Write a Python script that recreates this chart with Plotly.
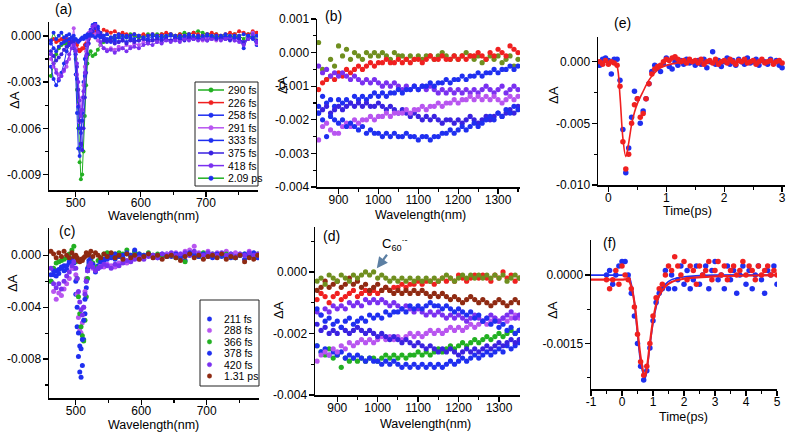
import plotly.graph_objects as go

W, H = 787, 433

# ---------------- panel (a) / (c): visible region ----------------
VIS_WL = [462, 466, 470, 474, 478, 482, 486, 490, 494, 497,
          500, 502, 504, 506, 508, 510, 512, 514, 516, 518,
          520, 523, 526, 530, 534, 538, 543, 548, 554, 560,
          566, 572, 578, 584, 590, 597, 604, 611, 618, 625,
          632, 639, 646, 653, 660, 667, 674, 681, 688, 695,
          702, 709, 716, 723, 730, 737, 744, 751, 758, 765,
          772, 778]

A_290 = [-0.0026, -0.0018, -0.0012, -0.0008, -0.0006, -0.0005, -0.0005, -0.0006, -0.0004, -0.0003,
         -0.0015, -0.0035, -0.0060, -0.0082, -0.0093, -0.0090, -0.0075, -0.0052, -0.0032, -0.0018,
         -0.0012, -0.0010, -0.0013, -0.0012, -0.0009, -0.0006, -0.0004, -0.0003, -0.0002, -0.0001,
         -0.0001, 0.0000, -0.0001, 0.0001, 0.0000, -0.0001, 0.0000, 0.0001, 0.0000, 0.0001,
         0.0001, 0.0000, 0.0001, 0.0000, 0.0001, 0.0002, 0.0001, 0.0002, 0.0003, 0.0002,
         0.0001, 0.0000, 0.0001, 0.0000, -0.0001, 0.0000, 0.0001, 0.0000, -0.0002, 0.0001,
         0.0002, -0.0003]
A_226 = [-0.0003, -0.0002, -0.0004, -0.0003, -0.0002, -0.0003, -0.0002, -0.0003, -0.0002, -0.0003,
         -0.0004, -0.0006, -0.0009, -0.0010, -0.0009, -0.0008, -0.0008, -0.0006, -0.0005, -0.0004,
         -0.0002, 0.0000, 0.0002, 0.0003, 0.0003, 0.0002, 0.0004, 0.0003, 0.0002, 0.0003,
         0.0001, 0.0002, 0.0001, 0.0000, 0.0001, 0.0000, 0.0001, 0.0000, 0.0001, 0.0000,
         0.0001, 0.0002, 0.0001, 0.0000, 0.0001, 0.0000, 0.0001, 0.0002, 0.0001, 0.0000,
         0.0001, 0.0002, 0.0001, 0.0000, 0.0001, 0.0002, 0.0001, 0.0003, 0.0002, 0.0001,
         0.0003, 0.0002]
A_258 = [-0.0020, -0.0028, -0.0032, -0.0029, -0.0024, -0.0018, -0.0010, -0.0006, -0.0003, -0.0008,
         -0.0025, -0.0050, -0.0073, -0.0078, -0.0070, -0.0050, -0.0030, -0.0015, -0.0006, -0.0002,
         0.0001, 0.0003, 0.0006, 0.0008, 0.0005, 0.0001, -0.0002, -0.0003, -0.0004, -0.0003,
         -0.0004, -0.0003, -0.0004, -0.0002, -0.0003, -0.0003, -0.0002, -0.0003, -0.0002, -0.0003,
         -0.0001, -0.0002, -0.0003, -0.0002, -0.0001, -0.0002, -0.0001, -0.0002, -0.0001, -0.0002,
         -0.0001, -0.0002, -0.0001, -0.0002, -0.0001, -0.0002, -0.0001, -0.0002, -0.0005, -0.0001,
         -0.0002, -0.0006]
A_291 = [-0.0015, -0.0020, -0.0022, -0.0025, -0.0026, -0.0023, -0.0020, -0.0015, -0.0005, 0.0005,
         -0.0008, -0.0025, -0.0045, -0.0056, -0.0050, -0.0040, -0.0032, -0.0020, -0.0010, -0.0003,
         0.0002, 0.0004, 0.0003, 0.0001, -0.0003, -0.0006, -0.0008, -0.0009, -0.0008, -0.0009,
         -0.0007, -0.0008, -0.0006, -0.0007, -0.0005, -0.0006, -0.0004, -0.0005, -0.0003, -0.0004,
         -0.0003, -0.0002, -0.0003, -0.0002, -0.0003, -0.0001, -0.0002, -0.0001, -0.0002, -0.0003,
         -0.0001, -0.0002, -0.0003, -0.0001, -0.0002, -0.0001, -0.0003, -0.0002, -0.0004, -0.0001,
         0.0002, -0.0005]
A_333 = [-0.0005, -0.0008, -0.0010, -0.0007, -0.0005, -0.0004, -0.0003, -0.0002, -0.0001, -0.0003,
         -0.0012, -0.0028, -0.0046, -0.0060, -0.0063, -0.0055, -0.0040, -0.0026, -0.0014, -0.0006,
         0.0000, 0.0004, 0.0007, 0.0009, 0.0006, 0.0002, 0.0000, -0.0002, -0.0001, -0.0002,
         -0.0001, -0.0002, 0.0000, -0.0001, -0.0002, 0.0000, -0.0001, -0.0002, 0.0000, -0.0001,
         0.0000, -0.0001, 0.0000, -0.0001, 0.0000, -0.0001, 0.0000, -0.0001, 0.0000, -0.0001,
         0.0000, -0.0001, 0.0000, -0.0001, 0.0000, -0.0001, 0.0000, -0.0001, -0.0008, 0.0000,
         -0.0001, -0.0004]
A_375 = [-0.0010, -0.0013, -0.0016, -0.0014, -0.0012, -0.0009, -0.0007, -0.0005, -0.0004, -0.0005,
         -0.0010, -0.0020, -0.0035, -0.0055, -0.0070, -0.0074, -0.0060, -0.0040, -0.0024, -0.0012,
         -0.0005, 0.0000, 0.0003, 0.0005, 0.0003, 0.0000, -0.0003, -0.0004, -0.0003, -0.0005,
         -0.0004, -0.0003, -0.0005, -0.0003, -0.0004, -0.0003, -0.0002, -0.0004, -0.0003, -0.0002,
         -0.0003, -0.0002, -0.0003, -0.0001, -0.0002, -0.0003, -0.0001, -0.0002, -0.0001, -0.0002,
         -0.0003, -0.0001, -0.0002, -0.0001, -0.0002, -0.0003, -0.0001, -0.0002, -0.0004, -0.0002,
         -0.0001, -0.0003]
A_418 = [-0.0012, -0.0018, -0.0024, -0.0028, -0.0026, -0.0022, -0.0017, -0.0012, -0.0008, -0.0006,
         -0.0010, -0.0018, -0.0030, -0.0042, -0.0052, -0.0048, -0.0036, -0.0024, -0.0013, -0.0006,
         -0.0001, 0.0003, 0.0006, 0.0007, 0.0002, -0.0004, -0.0008, -0.0010, -0.0009, -0.0011,
         -0.0009, -0.0008, -0.0010, -0.0008, -0.0007, -0.0008, -0.0006, -0.0005, -0.0006, -0.0004,
         -0.0005, -0.0003, -0.0004, -0.0003, -0.0004, -0.0002, -0.0003, -0.0002, -0.0003, -0.0002,
         -0.0003, -0.0002, -0.0001, -0.0003, -0.0002, -0.0001, -0.0003, -0.0004, -0.0006, -0.0002,
         0.0001, -0.0004]
A_2090 = [-0.0003, 0.0002, -0.0002, 0.0000, 0.0002, -0.0001, 0.0000, 0.0001, -0.0001, 0.0000,
          -0.0002, -0.0003, -0.0004, -0.0003, -0.0002, -0.0001, -0.0002, 0.0000, -0.0001, 0.0001,
          0.0000, 0.0001, 0.0000, -0.0001, 0.0000, -0.0001, 0.0000, 0.0001, -0.0001, 0.0000,
          0.0001, 0.0000, -0.0001, 0.0000, 0.0001, 0.0000, -0.0001, 0.0000, 0.0001, 0.0000,
          -0.0001, 0.0000, 0.0001, 0.0000, -0.0001, 0.0000, 0.0001, 0.0000, -0.0001, 0.0000,
          0.0001, 0.0000, -0.0001, 0.0000, 0.0001, 0.0000, -0.0001, 0.0000, 0.0001, 0.0000,
          -0.0001, 0.0000]

C_211 = [-0.0020, -0.0015, -0.0012, -0.0014, -0.0010, -0.0008, -0.0011, -0.0006, -0.0004, -0.0010,
         -0.0030, -0.0055, -0.0078, -0.0090, -0.0094, -0.0085, -0.0065, -0.0045, -0.0025, -0.0012,
         -0.0006, -0.0005, -0.0008, -0.0010, -0.0008, -0.0006, -0.0004, -0.0003, -0.0002, -0.0003,
         -0.0001, -0.0002, 0.0001, -0.0001, 0.0002, 0.0000, -0.0001, 0.0001, 0.0000, -0.0002,
         0.0000, 0.0001, -0.0001, 0.0000, -0.0002, -0.0004, 0.0000, 0.0001, -0.0001, 0.0000,
         -0.0001, -0.0002, 0.0000, -0.0001, 0.0000, -0.0002, -0.0001, 0.0000, -0.0003, 0.0000,
         -0.0001, -0.0002]
C_288 = [-0.0020, -0.0028, -0.0034, -0.0029, -0.0031, -0.0026, -0.0022, -0.0018, -0.0010, -0.0004,
         -0.0015, -0.0030, -0.0048, -0.0058, -0.0060, -0.0052, -0.0040, -0.0028, -0.0018, -0.0012,
         -0.0009, -0.0008, -0.0010, -0.0011, -0.0010, -0.0008, -0.0009, -0.0007, -0.0008, -0.0009,
         -0.0006, -0.0005, -0.0006, -0.0004, -0.0002, -0.0003, -0.0001, 0.0000, -0.0002, 0.0000,
         -0.0001, 0.0001, 0.0000, 0.0002, 0.0001, 0.0003, 0.0004, 0.0007, 0.0002, 0.0001,
         0.0003, 0.0000, 0.0002, 0.0001, 0.0003, 0.0000, 0.0002, 0.0001, 0.0000, 0.0003,
         0.0001, 0.0000]
C_366 = [-0.0020, -0.0010, -0.0006, -0.0005, -0.0004, -0.0003, -0.0002, 0.0001, 0.0004, 0.0007,
         -0.0005, -0.0018, -0.0032, -0.0045, -0.0055, -0.0062, -0.0066, -0.0050, -0.0032, -0.0018,
         -0.0008, -0.0003, -0.0006, -0.0009, -0.0004, -0.0002, 0.0001, 0.0002, 0.0000, 0.0001,
         0.0002, 0.0001, 0.0004, 0.0000, 0.0003, 0.0001, 0.0000, 0.0002, 0.0000, 0.0001,
         0.0000, -0.0001, 0.0000, -0.0002, 0.0000, -0.0005, 0.0001, 0.0000, -0.0001, 0.0002,
         0.0000, 0.0001, -0.0001, 0.0000, 0.0001, 0.0000, -0.0002, 0.0000, 0.0001, -0.0001,
         0.0000, 0.0001]
C_378 = [-0.0015, -0.0012, -0.0016, -0.0011, -0.0009, -0.0012, -0.0008, -0.0005, -0.0003, -0.0006,
         -0.0020, -0.0040, -0.0060, -0.0070, -0.0072, -0.0065, -0.0050, -0.0034, -0.0020, -0.0010,
         -0.0004, -0.0002, -0.0007, -0.0013, -0.0010, -0.0005, -0.0003, -0.0001, 0.0000, 0.0001,
         -0.0001, 0.0000, 0.0002, 0.0000, 0.0004, 0.0001, 0.0000, 0.0001, -0.0001, 0.0000,
         0.0001, -0.0001, 0.0000, 0.0001, -0.0001, 0.0000, 0.0002, 0.0000, -0.0001, 0.0001,
         0.0000, -0.0001, 0.0001, 0.0000, -0.0001, 0.0001, -0.0002, 0.0000, 0.0001, -0.0001,
         0.0002, 0.0000]
C_420 = [-0.0010, -0.0022, -0.0025, -0.0022, -0.0026, -0.0020, -0.0016, -0.0013, -0.0008, -0.0005,
         -0.0010, -0.0018, -0.0028, -0.0036, -0.0042, -0.0046, -0.0040, -0.0030, -0.0020, -0.0012,
         -0.0008, -0.0006, -0.0009, -0.0012, -0.0010, -0.0009, -0.0007, -0.0008, -0.0010, -0.0007,
         -0.0008, -0.0006, -0.0004, -0.0005, -0.0003, -0.0002, -0.0003, -0.0001, 0.0000, -0.0002,
         0.0001, 0.0000, 0.0002, 0.0000, 0.0001, 0.0002, 0.0000, 0.0003, 0.0001, 0.0000,
         0.0002, 0.0001, 0.0000, 0.0002, 0.0000, 0.0001, -0.0001, 0.0001, 0.0000, 0.0002,
         0.0000, 0.0001]
C_1310 = [0.0003, 0.0001, -0.0002, 0.0002, -0.0001, 0.0003, 0.0000, -0.0002, 0.0002, -0.0001,
          0.0000, -0.0002, -0.0004, -0.0005, -0.0003, -0.0004, -0.0002, -0.0001, 0.0002, 0.0000,
          0.0001, 0.0003, -0.0001, 0.0002, 0.0000, -0.0002, 0.0001, -0.0001, 0.0002, -0.0002,
          0.0000, -0.0003, 0.0001, -0.0002, 0.0000, -0.0003, -0.0001, 0.0001, -0.0002, 0.0000,
          -0.0003, -0.0001, 0.0000, -0.0002, -0.0004, -0.0001, 0.0001, -0.0002, 0.0000, -0.0003,
          -0.0001, 0.0000, -0.0002, 0.0001, -0.0003, -0.0001, -0.0002, 0.0000, -0.0005, -0.0002,
          -0.0003, 0.0000]

# ---------------- panel (b) / (d): NIR region ----------------
NIR_WL = [850, 860, 870, 880, 890, 900, 910, 920, 930, 940,
          950, 960, 970, 980, 990, 1000, 1010, 1020, 1030, 1040,
          1050, 1060, 1070, 1080, 1090, 1100, 1110, 1120, 1130, 1140,
          1150, 1160, 1170, 1180, 1190, 1200, 1210, 1220, 1230, 1240,
          1250, 1260, 1270, 1280, 1290, 1300, 1310, 1320, 1330, 1340,
          1350]

B_OLIVE = [0.0003, -0.0005, -0.0008, -0.0002, -0.0004, 0.0002, -0.0001, 0.0001, -0.0002, 0.0000,
           -0.0001, -0.0002, 0.0000, -0.0001, 0.0000, -0.0001, 0.0000, -0.0001, -0.0002, 0.0000,
           -0.0001, -0.0001, -0.0002, -0.0001, -0.0002, -0.0001, -0.0002, -0.0001, -0.0001, -0.0002,
           -0.0001, 0.0000, -0.0001, -0.0002, -0.0001, -0.0002, -0.0001, 0.0000, -0.0001, -0.0002,
           -0.0001, -0.0003, -0.0002, -0.0001, -0.0002, -0.0001, -0.0003, -0.0002, -0.0001, -0.0004,
           -0.0002]
B_RED = [-0.0011, -0.0009, -0.0008, -0.0007, -0.0008, -0.0006, -0.0007, -0.0005, -0.0006, -0.0005,
         -0.0004, -0.0005, -0.0004, -0.0003, -0.0004, -0.0003, -0.0003, -0.0002, -0.0003, -0.0003,
         -0.0002, -0.0003, -0.0002, -0.0003, -0.0002, -0.0002, -0.0003, -0.0002, -0.0001, -0.0002,
         -0.0002, -0.0001, -0.0002, -0.0002, -0.0001, -0.0002, -0.0001, -0.0002, -0.0001, -0.0001,
         0.0000, -0.0001, -0.0002, 0.0000, -0.0001, 0.0001, 0.0000, -0.0001, 0.0002, 0.0001,
         0.0000]
B_VIOLET1 = [-0.0004, -0.0006, -0.0005, -0.0007, -0.0006, -0.0007, -0.0006, -0.0007, -0.0008, -0.0007,
             -0.0008, -0.0009, -0.0008, -0.0009, -0.0008, -0.0009, -0.0010, -0.0009, -0.0010, -0.0009,
             -0.0010, -0.0011, -0.0010, -0.0011, -0.0010, -0.0011, -0.0010, -0.0011, -0.0010, -0.0011,
             -0.0012, -0.0011, -0.0012, -0.0011, -0.0012, -0.0011, -0.0012, -0.0011, -0.0012, -0.0011,
             -0.0012, -0.0011, -0.0010, -0.0011, -0.0012, -0.0011, -0.0010, -0.0012, -0.0011, -0.0010,
             -0.0011]
B_BLUE1 = [-0.0016, -0.0013, -0.0015, -0.0014, -0.0016, -0.0014, -0.0015, -0.0014, -0.0015, -0.0013,
           -0.0014, -0.0013, -0.0014, -0.0013, -0.0012, -0.0013, -0.0012, -0.0013, -0.0012, -0.0012,
           -0.0011, -0.0012, -0.0011, -0.0011, -0.0010, -0.0011, -0.0010, -0.0010, -0.0009, -0.0010,
           -0.0009, -0.0009, -0.0008, -0.0009, -0.0008, -0.0008, -0.0007, -0.0008, -0.0007, -0.0007,
           -0.0006, -0.0007, -0.0006, -0.0006, -0.0005, -0.0006, -0.0005, -0.0005, -0.0004, -0.0005,
           -0.0004]
B_INDIGO = [-0.0018, -0.0017, -0.0016, -0.0018, -0.0017, -0.0016, -0.0017, -0.0016, -0.0015, -0.0016,
            -0.0015, -0.0016, -0.0015, -0.0016, -0.0016, -0.0015, -0.0016, -0.0017, -0.0016, -0.0017,
            -0.0018, -0.0017, -0.0018, -0.0019, -0.0018, -0.0019, -0.0020, -0.0019, -0.0020, -0.0019,
            -0.0020, -0.0021, -0.0020, -0.0020, -0.0021, -0.0020, -0.0021, -0.0020, -0.0019, -0.0020,
            -0.0021, -0.0020, -0.0019, -0.0020, -0.0019, -0.0018, -0.0019, -0.0018, -0.0017, -0.0018,
            -0.0016]
B_VIOLET2 = [-0.0026, -0.0022, -0.0021, -0.0023, -0.0024, -0.0024, -0.0022, -0.0021, -0.0022, -0.0020,
             -0.0021, -0.0020, -0.0020, -0.0019, -0.0020, -0.0019, -0.0019, -0.0018, -0.0019, -0.0018,
             -0.0018, -0.0018, -0.0017, -0.0018, -0.0017, -0.0017, -0.0016, -0.0017, -0.0016, -0.0016,
             -0.0015, -0.0016, -0.0015, -0.0015, -0.0014, -0.0015, -0.0014, -0.0014, -0.0013, -0.0014,
             -0.0013, -0.0014, -0.0013, -0.0014, -0.0013, -0.0014, -0.0015, -0.0014, -0.0013, -0.0014,
             -0.0013]
B_BLUE3 = [-0.0018, -0.0020, -0.0025, -0.0019, -0.0020, -0.0021, -0.0020, -0.0022, -0.0021, -0.0022,
           -0.0023, -0.0022, -0.0024, -0.0023, -0.0024, -0.0024, -0.0025, -0.0024, -0.0025, -0.0024,
           -0.0025, -0.0025, -0.0024, -0.0025, -0.0025, -0.0026, -0.0025, -0.0025, -0.0026, -0.0025,
           -0.0025, -0.0024, -0.0024, -0.0023, -0.0024, -0.0023, -0.0022, -0.0023, -0.0022, -0.0021,
           -0.0022, -0.0021, -0.0020, -0.0019, -0.0020, -0.0018, -0.0019, -0.0017, -0.0018, -0.0016,
           -0.0017]

D_OLIVE = [-0.0003, -0.0002, -0.0004, -0.0001, -0.0002, -0.0003, -0.0001, -0.0002, -0.0003, -0.0001,
           -0.0002, -0.0001, 0.0000, -0.0001, 0.0000, -0.0002, -0.0001, -0.0002, -0.0003, -0.0002,
           -0.0003, -0.0002, -0.0003, -0.0002, -0.0003, -0.0002, -0.0003, -0.0002, -0.0003, -0.0002,
           -0.0003, -0.0002, -0.0001, -0.0002, -0.0003, -0.0002, -0.0001, -0.0002, -0.0001, -0.0002,
           -0.0001, -0.0002, -0.0001, -0.0002, -0.0001, -0.0002, -0.0001, -0.0003, -0.0002, -0.0001,
           -0.0002]
D_BROWN = [-0.0006, -0.0005, -0.0003, -0.0005, -0.0004, -0.0003, -0.0005, -0.0004, -0.0002, -0.0004,
           -0.0003, -0.0005, -0.0004, -0.0006, -0.0005, -0.0004, -0.0006, -0.0005, -0.0006, -0.0007,
           -0.0006, -0.0007, -0.0006, -0.0007, -0.0006, -0.0007, -0.0006, -0.0007, -0.0008, -0.0007,
           -0.0008, -0.0007, -0.0008, -0.0009, -0.0008, -0.0009, -0.0010, -0.0009, -0.0008, -0.0009,
           -0.0010, -0.0009, -0.0010, -0.0011, -0.0010, -0.0009, -0.0010, -0.0011, -0.0010, -0.0009,
           -0.0010]
D_RED = [-0.0009, -0.0007, -0.0008, -0.0010, -0.0008, -0.0007, -0.0009, -0.0008, -0.0007, -0.0006,
         -0.0008, -0.0007, -0.0006, -0.0007, -0.0006, -0.0007, -0.0006, -0.0005, -0.0006, -0.0005,
         -0.0005, -0.0004, -0.0005, -0.0004, -0.0004, -0.0003, -0.0004, -0.0003, -0.0003, -0.0004,
         -0.0003, -0.0002, -0.0003, -0.0002, -0.0003, -0.0001, -0.0002, -0.0003, -0.0002, -0.0001,
         -0.0002, -0.0001, -0.0002, -0.0003, -0.0001, -0.0002, 0.0000, -0.0002, -0.0001, -0.0003,
         -0.0002]
D_BLUE_UP = [-0.0012, -0.0014, -0.0016, -0.0015, -0.0017, -0.0016, -0.0018, -0.0016, -0.0015, -0.0017,
             -0.0016, -0.0015, -0.0016, -0.0014, -0.0015, -0.0014, -0.0015, -0.0013, -0.0014, -0.0013,
             -0.0013, -0.0012, -0.0013, -0.0011, -0.0012, -0.0011, -0.0012, -0.0011, -0.0010, -0.0011,
             -0.0011, -0.0012, -0.0011, -0.0012, -0.0013, -0.0012, -0.0013, -0.0014, -0.0013, -0.0015,
             -0.0014, -0.0016, -0.0015, -0.0017, -0.0016, -0.0018, -0.0017, -0.0019, -0.0018, -0.0020,
             -0.0019]
D_PURPLE = [-0.0013, -0.0014, -0.0012, -0.0013, -0.0011, -0.0012, -0.0011, -0.0012, -0.0010, -0.0011,
            -0.0010, -0.0011, -0.0009, -0.0010, -0.0009, -0.0010, -0.0009, -0.0010, -0.0011, -0.0010,
            -0.0011, -0.0012, -0.0011, -0.0012, -0.0013, -0.0012, -0.0013, -0.0014, -0.0013, -0.0014,
            -0.0013, -0.0014, -0.0015, -0.0014, -0.0015, -0.0014, -0.0015, -0.0016, -0.0015, -0.0014,
            -0.0015, -0.0016, -0.0015, -0.0014, -0.0015, -0.0016, -0.0015, -0.0014, -0.0013, -0.0015,
            -0.0014]
D_INDIGO = [-0.0017, -0.0019, -0.0018, -0.0020, -0.0019, -0.0020, -0.0018, -0.0019, -0.0020, -0.0019,
            -0.0018, -0.0019, -0.0020, -0.0019, -0.0020, -0.0021, -0.0020, -0.0021, -0.0022, -0.0021,
            -0.0022, -0.0023, -0.0022, -0.0023, -0.0024, -0.0023, -0.0024, -0.0025, -0.0024, -0.0025,
            -0.0026, -0.0025, -0.0026, -0.0025, -0.0026, -0.0027, -0.0026, -0.0025, -0.0026, -0.0025,
            -0.0026, -0.0025, -0.0024, -0.0025, -0.0024, -0.0023, -0.0024, -0.0023, -0.0022, -0.0023,
            -0.0022]
D_VIOLET = [-0.0029, -0.0027, -0.0026, -0.0027, -0.0025, -0.0026, -0.0024, -0.0025, -0.0023, -0.0024,
            -0.0023, -0.0022, -0.0023, -0.0022, -0.0023, -0.0022, -0.0021, -0.0022, -0.0021, -0.0022,
            -0.0021, -0.0022, -0.0021, -0.0020, -0.0021, -0.0020, -0.0021, -0.0020, -0.0019, -0.0020,
            -0.0019, -0.0020, -0.0019, -0.0018, -0.0019, -0.0018, -0.0019, -0.0018, -0.0017, -0.0018,
            -0.0017, -0.0016, -0.0017, -0.0016, -0.0015, -0.0016, -0.0015, -0.0016, -0.0015, -0.0014,
            -0.0015]
D_GREEN = [-0.0024, -0.0026, -0.0027, -0.0025, -0.0028, -0.0027, -0.0031, -0.0028, -0.0029, -0.0028,
           -0.0029, -0.0028, -0.0029, -0.0028, -0.0028, -0.0029, -0.0028, -0.0027, -0.0028, -0.0027,
           -0.0028, -0.0027, -0.0028, -0.0027, -0.0027, -0.0026, -0.0027, -0.0026, -0.0027, -0.0026,
           -0.0025, -0.0026, -0.0025, -0.0024, -0.0025, -0.0024, -0.0023, -0.0024, -0.0023, -0.0022,
           -0.0023, -0.0022, -0.0021, -0.0022, -0.0021, -0.0020, -0.0021, -0.0020, -0.0019, -0.0020,
           -0.0019]
D_BLUE_LOW = [-0.0024, -0.0026, -0.0025, -0.0027, -0.0026, -0.0027, -0.0026, -0.0028, -0.0027, -0.0028,
              -0.0027, -0.0028, -0.0029, -0.0028, -0.0029, -0.0029, -0.0030, -0.0029, -0.0030, -0.0029,
              -0.0030, -0.0031, -0.0030, -0.0031, -0.0030, -0.0031, -0.0030, -0.0031, -0.0030, -0.0031,
              -0.0030, -0.0031, -0.0030, -0.0029, -0.0030, -0.0029, -0.0028, -0.0029, -0.0028, -0.0027,
              -0.0028, -0.0027, -0.0026, -0.0027, -0.0026, -0.0025, -0.0026, -0.0024, -0.0025, -0.0024,
              -0.0023]

# ---------------- panel (e): kinetics ----------------
TIME_E = [-0.15, -0.10, -0.05, 0.00, 0.05, 0.10, 0.15, 0.20, 0.25, 0.30,
          0.35, 0.40, 0.45, 0.50, 0.55, 0.60, 0.65, 0.70, 0.75, 0.80,
          0.85, 0.90, 0.95, 1.00, 1.05, 1.10, 1.15, 1.20, 1.25, 1.30,
          1.35, 1.40, 1.45, 1.50, 1.55, 1.60, 1.65, 1.70, 1.75, 1.80,
          1.85, 1.90, 1.95, 2.00, 2.05, 2.10, 2.15, 2.20, 2.25, 2.30,
          2.35, 2.40, 2.45, 2.50, 2.55, 2.60, 2.65, 2.70, 2.75, 2.80,
          2.85, 2.90, 2.95, 3.00]
E_BLUE = [-0.0003, 0.0002, 0.0003, 0.0001, -0.0010, 0.0002, 0.0002, -0.0015, -0.0055, -0.0090,
          -0.0070, -0.0045, -0.0024, -0.0030, -0.0050, -0.0040, -0.0030, -0.0018, -0.0008, -0.0003,
          -0.0005, -0.0008, -0.0002, 0.0003, -0.0004, -0.0006, 0.0000, -0.0003, 0.0001, -0.0002,
          0.0002, -0.0001, 0.0000, -0.0003, 0.0001, -0.0002, 0.0002, -0.0005, 0.0000, 0.0008,
          -0.0002, 0.0001, -0.0004, 0.0000, 0.0003, -0.0002, 0.0001, -0.0003, 0.0002, 0.0000,
          -0.0002, 0.0003, -0.0001, 0.0000, 0.0002, -0.0003, 0.0001, 0.0000, -0.0002, 0.0002,
          -0.0001, 0.0001, -0.0003, -0.0005]
E_RED = [0.0000, -0.0002, 0.0001, -0.0002, 0.0000, -0.0001, -0.0003, -0.0020, -0.0065, -0.0087,
         -0.0075, -0.0050, -0.0035, -0.0030, -0.0045, -0.0042, -0.0030, -0.0018, -0.0010, -0.0006,
         -0.0004, -0.0003, 0.0000, 0.0002, 0.0001, 0.0003, 0.0004, 0.0002, 0.0000, 0.0001,
         -0.0001, 0.0002, 0.0000, 0.0001, -0.0001, 0.0002, -0.0002, 0.0000, 0.0001, -0.0001,
         0.0002, -0.0002, 0.0000, 0.0001, -0.0001, 0.0002, 0.0000, -0.0002, 0.0001, 0.0000,
         0.0002, -0.0001, 0.0000, 0.0001, -0.0002, 0.0000, 0.0002, -0.0001, 0.0000, 0.0001,
         -0.0002, 0.0000, 0.0001, -0.0001]
FIT_T_E = [-0.15, 0.00, 0.10, 0.15, 0.20, 0.25, 0.30, 0.35, 0.40, 0.45,
           0.50, 0.60, 0.70, 0.80, 0.90, 1.00, 1.20, 1.50, 2.00, 3.00]
FIT_E = [0.0, 0.0, -0.00005, -0.0004, -0.0028, -0.0062, -0.0077, -0.0066, -0.0051, -0.0041,
         -0.0034, -0.0024, -0.0015, -0.0009, -0.0005, -0.0003, -0.0001, -0.00003, 0.0, 0.0]

# ---------------- panel (f): kinetics ----------------
TIME_F = [-0.5, -0.4, -0.3, -0.2, -0.1, 0.0, 0.1, 0.2, 0.3, 0.4,
          0.5, 0.6, 0.7, 0.8, 0.9, 1.0, 1.1, 1.2, 1.3, 1.4,
          1.5, 1.6, 1.7, 1.8, 1.9, 2.0, 2.1, 2.2, 2.3, 2.4,
          2.5, 2.6, 2.7, 2.8, 2.9, 3.0, 3.1, 3.2, 3.3, 3.4,
          3.5, 3.6, 3.7, 3.8, 3.9, 4.0, 4.1, 4.2, 4.3, 4.4,
          4.5, 4.6, 4.7, 4.8, 4.9, 5.0]
F_BLUE = [0.0000, 0.0001, -0.0002, 0.0000, 0.0002, 0.0003, 0.0003, 0.0000, -0.0004, -0.0009,
          -0.0015, -0.0020, -0.0023, -0.0021, -0.0016, -0.0010, -0.0006, -0.0004, -0.0003, 0.0001,
          -0.0003, 0.0000, -0.0003, -0.0001, 0.0002, -0.0002, 0.0001, -0.0003, -0.0001, 0.0002,
          -0.0002, 0.0000, 0.0002, -0.0003, 0.0001, 0.0003, -0.0001, 0.0000, -0.0003, 0.0002,
          -0.0001, 0.0001, -0.0004, 0.0000, 0.0002, -0.0002, 0.0001, -0.0003, 0.0000, 0.0002,
          -0.0001, -0.0004, 0.0001, 0.0000, 0.0002, -0.0002]
F_RED = [-0.0001, -0.0003, -0.0001, 0.0001, -0.0002, 0.0002, 0.0000, -0.0001, -0.0003, -0.0007,
         -0.0013, -0.0019, -0.0022, -0.0020, -0.0015, -0.0009, -0.0005, -0.0003, -0.0002, 0.0000,
         0.0002, 0.0001, 0.0004, 0.0002, 0.0000, 0.0003, -0.0001, 0.0002, 0.0001, -0.0002,
         0.0002, 0.0000, 0.0001, 0.0003, -0.0001, 0.0001, 0.0003, 0.0000, 0.0002, -0.0001,
         0.0001, 0.0002, 0.0000, 0.0001, 0.0003, 0.0000, 0.0002, 0.0001, -0.0001, 0.0002,
         0.0000, 0.0001, 0.0002, 0.0000, 0.0001, 0.0000]
FIT_T_F = [-1.0, -0.5, 0.0, 0.2, 0.3, 0.4, 0.5, 0.6, 0.7, 0.75,
           0.8, 0.9, 1.0, 1.1, 1.2, 1.4, 1.6, 2.0, 3.0, 5.0]
FIT_F_RED = [-0.0001, -0.0001, -0.0001, -0.0001, -0.00025, -0.0006, -0.0012, -0.0018, -0.00215, -0.0022,
             -0.00205, -0.0015, -0.0010, -0.00065, -0.00045, -0.00025, -0.00015, -0.00008, -0.00003, 0.0]
FIT_F_BLUE = [0.0, 0.0, 0.0, 0.0, -0.0002, -0.0006, -0.0013, -0.0019, -0.0022, -0.00225,
              -0.0021, -0.00155, -0.00105, -0.0007, -0.00045, -0.0002, -0.0001, -0.00004, 0.0, 0.0]

LEGEND_A = ["290 fs", "226 fs", "258 fs", "291 fs", "333 fs", "375 fs", "418 fs", "2.09 ps"]
LEGEND_C = ["211 fs", "288 fs", "366 fs", "378 fs", "420 fs", "1.31 ps"]

# ---------------- styling ----------------
GREEN = "#22b022"
RED = "#f02020"
BLUE = "#1f2ff0"
VIOLET = "#b855f0"
INDIGO = "#3a22e0"
PURPLE = "#7a30f0"
OLIVE = "#6f8f1f"
BROWN = "#8f2a12"
FONT = "Liberation Sans, Arial, sans-serif"

fig = go.Figure()


def add(x, y, color, xa, ya, mode="markers", name=None, size=4.5,
        lcolor=None, lwidth=1, shape="linear"):
    fig.add_trace(go.Scatter(
        x=x, y=y, mode=mode, name=name, xaxis=xa, yaxis=ya, showlegend=False,
        marker=dict(color=color, size=size, line=dict(width=0)),
        line=dict(color=lcolor or color, width=lwidth, shape=shape),
        cliponaxis=True, hoverinfo="skip",
    ))


# panel (a)
a_series = [A_290, A_226, A_258, A_291, A_333, A_375, A_418, A_2090]
a_colors = [GREEN, RED, BLUE, VIOLET, BLUE, INDIGO, PURPLE, BLUE]
a_lines = [GREEN, RED, BLUE, VIOLET, BLUE, INDIGO, PURPLE, GREEN]
for ys, c, lc, nm in zip(a_series, a_colors, a_lines, LEGEND_A):
    add(VIS_WL, ys, c, "x", "y", mode="lines+markers", name=nm, size=4, lcolor=lc, lwidth=1)

# panel (b)
for ys, c in [(B_OLIVE, OLIVE), (B_RED, RED), (B_VIOLET1, PURPLE), (B_BLUE1, BLUE),
              (B_INDIGO, INDIGO), (B_VIOLET2, VIOLET), (B_BLUE3, BLUE)]:
    add(NIR_WL, ys, c, "x2", "y2", size=5.2)

# panel (e)
add(TIME_E, E_BLUE, BLUE, "x3", "y3", size=5.5)
add(TIME_E, E_RED, RED, "x3", "y3", size=5.5)
add(FIT_T_E, FIT_E, RED, "x3", "y3", mode="lines", lwidth=1.6, shape="spline")

# panel (c)
c_series = [C_211, C_288, C_366, C_378, C_420, C_1310]
c_colors = [BLUE, VIOLET, GREEN, BLUE, PURPLE, BROWN]
for ys, c, nm in zip(c_series, c_colors, LEGEND_C):
    add(VIS_WL, ys, c, "x4", "y4", name=nm, size=5)

# panel (d)
for ys, c in [(D_GREEN, GREEN), (D_BLUE_LOW, BLUE), (D_VIOLET, VIOLET), (D_INDIGO, INDIGO),
              (D_PURPLE, PURPLE), (D_BLUE_UP, BLUE), (D_RED, RED), (D_BROWN, BROWN),
              (D_OLIVE, OLIVE)]:
    add(NIR_WL, ys, c, "x5", "y5", size=5.2)

# panel (f)
add(FIT_T_F, FIT_F_BLUE, BLUE, "x6", "y6", mode="lines", lwidth=1.6, shape="spline")
add(TIME_F, F_BLUE, BLUE, "x6", "y6", size=5.5)
add(TIME_F, F_RED, RED, "x6", "y6", size=5.5)
add(FIT_T_F, FIT_F_RED, RED, "x6", "y6", mode="lines", lwidth=2.2, shape="spline")


def px_x(a, b):
    return [a / W, b / W]


def px_y(top, bottom):
    return [1 - bottom / H, 1 - top / H]


def axis(domain, rng, tickvals, ticktext, minor, anchor, standoff):
    return dict(domain=domain, range=rng, anchor=anchor, showline=True, linecolor="black",
                linewidth=1.5, mirror=False, ticks="outside", ticklen=5, tickwidth=1.3,
                tickcolor="black", tickvals=tickvals, ticktext=ticktext, showgrid=False,
                zeroline=False, automargin=False, ticklabelstandoff=standoff,
                tickfont=dict(family=FONT, size=12, color="black"),
                minor=dict(tickvals=minor, ticks="outside", ticklen=3, tickwidth=1.2,
                           tickcolor="black", showgrid=False))


XS, YS = -4, -1

fig.update_layout(
    width=W, height=H, margin=dict(l=0, r=0, t=0, b=0, autoexpand=False),
    paper_bgcolor="white", plot_bgcolor="white", showlegend=False,
    font=dict(family=FONT, color="black"), hovermode=False,
    # (a)
    xaxis=axis(px_x(49, 258), [459, 780], [500, 600, 700], ["500", "600", "700"],
               [550, 650, 750], "y", XS),
    yaxis=axis(px_y(22, 190), [-0.0100, 0.0009], [0, -0.003, -0.006, -0.009],
               ["0.000", "-0.003", "-0.006", "-0.009"], [-0.0015, -0.0045, -0.0075], "x", YS),
    # (b)
    xaxis2=axis(px_x(317, 520), [846, 1355], [900, 1000, 1100, 1200, 1300],
                ["900", "1000", "1100", "1200", "1300"], [950, 1050, 1150, 1250, 1350], "y2", XS),
    yaxis2=axis(px_y(19, 187), [-0.004, 0.001], [0.001, 0, -0.001, -0.002, -0.003, -0.004],
                ["0.001", "0.000", "-0.001", "-0.002", "-0.003", "-0.004"],
                [0.0005, -0.0005, -0.0015, -0.0025, -0.0035], "x2", YS),
    # (e)
    xaxis3=axis(px_x(598, 785), [-0.18, 3.05], [0, 1, 2, 3], ["0", "1", "2", "3"],
                [0.5, 1.5, 2.5], "y3", XS),
    yaxis3=axis(px_y(37, 185), [-0.010, 0.002], [0, -0.005, -0.010],
                ["0.000", "-0.005", "-0.010"], [-0.0025, -0.0075], "x3", YS),
    # (c)
    xaxis4=axis(px_x(49, 259), [459, 780], [500, 600, 700], ["500", "600", "700"],
                [550, 650, 750], "y4", XS),
    yaxis4=axis(px_y(228, 398), [-0.0110, 0.0021], [0, -0.004, -0.008],
                ["0.000", "-0.004", "-0.008"], [-0.002, -0.006, -0.010], "x4", YS),
    # (d)
    xaxis5=axis(px_x(315, 520), [845, 1352], [900, 1000, 1100, 1200, 1300],
                ["900", "1000", "1100", "1200", "1300"], [950, 1050, 1150, 1250], "y5", XS),
    yaxis5=axis(px_y(227, 395), [-0.004, 0.00146], [0, -0.002, -0.004],
                ["0.000", "-0.002", "-0.004"], [0.001, -0.001, -0.003], "x5", YS),
    # (f)
    xaxis6=axis(px_x(591, 777), [-1, 5], [-1, 0, 1, 2, 3, 4, 5],
                ["-1", "0", "1", "2", "3", "4", "5"], [-0.5, 0.5, 1.5, 2.5, 3.5, 4.5], "y6", XS),
    yaxis6=axis(px_y(240, 389), [-0.0025, 0.00077], [0, -0.0015], ["0.0000", "-0.0015"],
                [-0.00075, -0.00225], "x6", YS),
)


def PX(x):
    return x / W


def PY(y):
    return 1 - y / H


def label(text, x, y, size=13, angle=0, xanchor="center"):
    fig.add_annotation(text=text, x=PX(x), y=PY(y), xref="paper", yref="paper",
                       showarrow=False, textangle=angle,
                       font=dict(family=FONT, size=size, color="black"),
                       xanchor=xanchor, yanchor="middle")


# ---- legend boxes drawn as boxes of symbols and text ----
def legend_box(x0, y0, x1, y1):
    fig.add_shape(type="rect", xref="paper", yref="paper", x0=PX(x0), x1=PX(x1),
                  y0=PY(y1), y1=PY(y0), line=dict(color="#222222", width=1),
                  fillcolor="white", layer="above")


def legend_marker(cx, cy, color, r=2.2):
    fig.add_shape(type="circle", xref="paper", yref="paper", x0=PX(cx - r), x1=PX(cx + r),
                  y0=PY(cy + r), y1=PY(cy - r), line=dict(color=color, width=0.5),
                  fillcolor=color, layer="above")


def legend_line(xa, xb, cy, color):
    fig.add_shape(type="line", xref="paper", yref="paper", x0=PX(xa), x1=PX(xb),
                  y0=PY(cy), y1=PY(cy), line=dict(color=color, width=1.5), layer="above")


legend_box(195, 82, 258, 186)
for i, (nm, mc, lc) in enumerate(zip(LEGEND_A, a_colors, a_lines)):
    cy = 90 + i * 12.6
    legend_line(198, 224, cy, lc)
    legend_marker(211, cy, mc)
    label(nm, 226, cy, size=10.5, xanchor="left")

legend_box(200, 300, 259, 386)
for i, (nm, mc) in enumerate(zip(LEGEND_C, c_colors)):
    cy = 319 + i * 11.4
    legend_marker(209.5, cy, mc)
    label(nm, 222, cy, size=10.5, xanchor="left")

# panel letters
for t, x, y in [("(a)", 63, 9), ("(b)", 333, 16), ("(e)", 622, 23),
                ("(c)", 67, 231), ("(d)", 331, 236), ("(f)", 609, 243)]:
    label(t, x, y, size=14)

# axis titles
for x, y in [(15, 100), (282, 85), (553, 95), (12, 283), (278, 310), (552, 310)]:
    label("ΔA", x, y, size=13, angle=-90)

for t, x, y in [("Wavelength(nm)", 153, 216), ("Wavelength(nm)", 420, 215),
                ("Time(ps)", 687, 211), ("Wavelength(nm)", 153, 425),
                ("Wavelength(nm)", 425, 424), ("Time(ps)", 683, 417)]:
    label(t, x, y, size=12.5)

# C60 radical anion marker in panel (d)
fig.add_annotation(text="C<sub>60</sub><sup>·-</sup>", x=998, y=0.00012, xref="x5", yref="y5",
                   ax=18, ay=-24, showarrow=True, arrowhead=2, arrowsize=1, arrowwidth=2.2,
                   arrowcolor="#5c7fa3", font=dict(family=FONT, size=13, color="black"))

fig.write_html("out.html", config={"displayModeBar": False, "staticPlot": True},
               post_script="document.body.style.margin='0px';")
